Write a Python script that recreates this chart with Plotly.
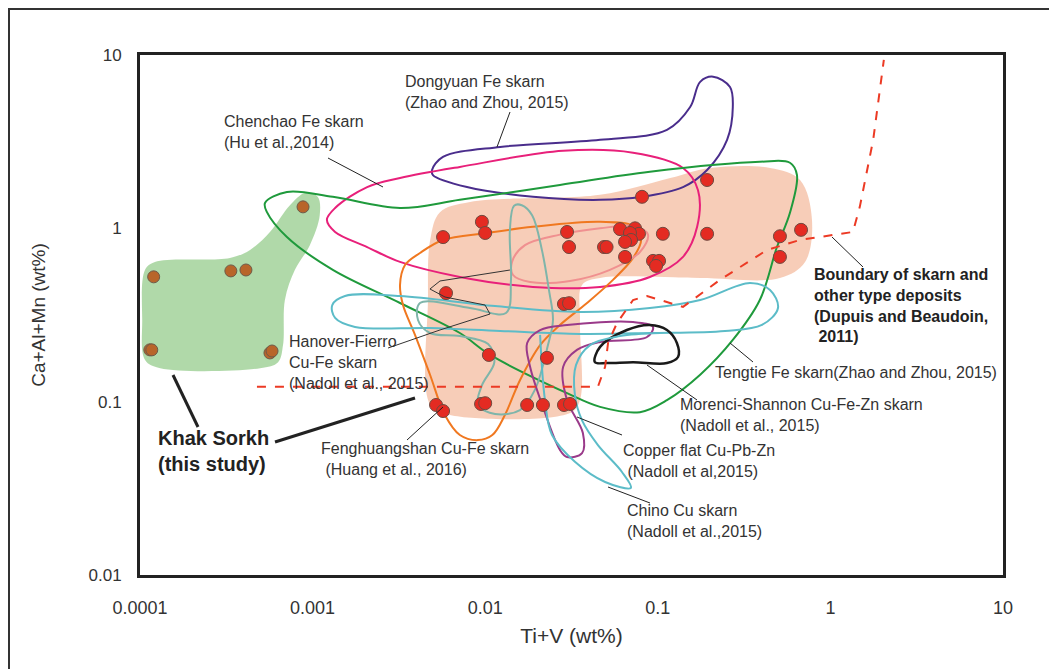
import plotly.graph_objects as go

# ---------------- data ----------------
# Khak Sorkh magnetite, red group
red_x = [0.193, 0.081, 0.00957, 0.0057, 0.0100, 0.0298, 0.0306, 0.0488, 0.0505, 0.0604,
         0.0738, 0.0778, 0.069, 0.070, 0.0646, 0.0646, 0.107, 0.193, 0.0938, 0.1017,
         0.0977, 0.00593, 0.0286, 0.0306, 0.51, 0.676, 0.51, 0.0105, 0.0228, 0.00519,
         0.0057, 0.00946, 0.0100, 0.0175, 0.0216, 0.0286, 0.031]
red_y = [1.90, 1.52, 1.09, 0.89, 0.94, 0.953, 0.78, 0.78, 0.78, 0.99,
         1.0, 0.93, 0.94, 0.857, 0.835, 0.684, 0.93, 0.93, 0.649, 0.649,
         0.607, 0.423, 0.366, 0.37, 0.90, 0.98, 0.684, 0.186, 0.179, 0.0957,
         0.0883, 0.097, 0.098, 0.0957, 0.0957, 0.0957, 0.097]
# Khak Sorkh, brown group
brown_x = [0.00088, 0.000120, 0.000336, 0.000411, 0.000114, 0.000117, 0.000566, 0.000582]
brown_y = [1.33, 0.525, 0.568, 0.575, 0.199, 0.199, 0.191, 0.196]

# Field of red group (salmon)
salmon_x = [0.0048, 0.00547, 0.00817, 0.0463, 0.118, 0.201, 0.447, 0.667, 0.782, 0.713,
            0.51, 0.176, 0.0463, 0.0364, 0.0354, 0.0354, 0.031, 0.00625, 0.0048, 0.00466]
salmon_y = [0.857, 1.24, 1.42, 1.56, 1.95, 2.23, 2.23, 1.90, 1.12, 0.64,
            0.517, 0.517, 0.517, 0.471, 0.296, 0.102, 0.086, 0.0837, 0.096, 0.386]
# Field of brown group (green)
lgreen_x = [1.07e-4, 1.22e-4, 3.32e-4, 4.34e-4, 5.66e-4, 7.39e-4, 9.05e-4, 1.07e-3, 1.10e-3,
            9.64e-4, 7.9e-4, 6.91e-4, 6.74e-4, 6.31e-4, 4.96e-4, 1.31e-4, 1.07e-4, 1.03e-4]
lgreen_y = [0.576, 0.64, 0.675, 0.751, 0.953, 1.36, 1.60, 1.52, 1.19,
            0.80, 0.576, 0.386, 0.212, 0.169, 0.156, 0.156, 0.174, 0.296]

# Published fields
green_x = [5.30e-4, 7.10e-4, 1.31e-3, 3.21e-3, 7.13e-3, 0.0271, 0.090, 0.390, 0.583, 0.640,
           0.583, 0.490, 0.390, 0.272, 0.176, 0.113, 0.0788, 0.0463, 0.0298, 0.0107,
           7.13e-3, 3.21e-3, 1.31e-3, 7.10e-4, 5.44e-4]
green_y = [1.40, 1.62, 1.52, 1.31, 1.46, 1.78, 2.12, 2.42, 2.39, 2.03,
           1.23, 0.78, 0.386, 0.227, 0.143, 0.102, 0.087, 0.0933, 0.112, 0.186,
           0.249, 0.371, 0.576, 0.891, 1.24]
chenchao_x = [1.21e-3, 1.35e-3, 2.07e-3, 3.21e-3, 7.13e-3, 0.0283, 0.0719, 0.140, 0.171, 0.169,
              0.140, 0.090, 0.0463, 0.0189, 7.13e-3, 3.21e-3, 2.07e-3, 1.35e-3]
chenchao_y = [1.12, 1.31, 1.73, 1.95, 2.26, 2.80, 2.73, 2.23, 1.66, 1.02,
              0.684, 0.524, 0.459, 0.459, 0.524, 0.640, 0.78, 0.953]
dongyuan_x = [4.92e-3, 5.69e-3, 0.0122, 0.0463, 0.113, 0.154, 0.176, 0.209, 0.262, 0.272,
              0.252, 0.193, 0.140, 0.081, 0.0463, 0.0189, 7.84e-3, 4.98e-3]
dongyuan_y = [2.17, 2.58, 2.95, 3.24, 3.70, 5.01, 7.0, 7.5, 6.54, 5.01,
              3.24, 2.17, 1.73, 1.52, 1.46, 1.52, 1.73, 2.03]
feng_x = [3.21e-3, 3.43e-3, 4.19e-3, 5.69e-3, 0.0102, 0.0189, 0.0463, 0.0719, 0.080, 0.0719,
          0.055, 0.0389, 0.0271, 0.0208, 0.0159, 0.0130, 0.0110, 9.07e-3, 7.13e-3, 5.84e-3,
          4.79e-3, 3.92e-3, 3.34e-3]
feng_y = [0.471, 0.614, 0.721, 0.857, 0.94, 1.02, 1.09, 1.03, 0.857, 0.675,
          0.504, 0.371, 0.277, 0.212, 0.133, 0.0837, 0.0642, 0.060, 0.0642, 0.0837,
          0.143, 0.243, 0.361]
pinkell_x = [0.0143, 0.0170, 0.0271, 0.0463, 0.0737, 0.0877, 0.0788, 0.0528, 0.031, 0.0182, 0.0145]
pinkell_y = [0.640, 0.80, 0.92, 1.0, 1.03, 0.92, 0.73, 0.576, 0.497, 0.49, 0.538]
tengtie_x = [1.30e-3, 1.54e-3, 3.21e-3, 0.0114, 0.0354, 0.090, 0.176, 0.342, 0.447, 0.497,
             0.401, 0.245, 0.090, 0.0354, 0.0122, 4.79e-3, 1.76e-3, 1.35e-3]
tengtie_y = [0.361, 0.407, 0.407, 0.356, 0.329, 0.347, 0.386, 0.484, 0.441, 0.347,
             0.277, 0.256, 0.249, 0.246, 0.256, 0.266, 0.270, 0.304]
hanover_x = [4.19e-3, 8.17e-3, 0.0132, 0.0141, 0.0139, 0.0147, 0.0163, 0.0187, 0.0213, 0.0234,
             0.0247, 0.0231, 0.0194, 0.0159, 0.0114, 9.07e-3, 9.6e-3, 0.0113, 0.0104, 7.13e-3,
             4.79e-3, 4.08e-3]
hanover_y = [0.371, 0.347, 0.325, 0.504, 0.979, 1.35, 1.36, 1.19, 0.751, 0.441,
             0.296, 0.212, 0.117, 0.0895, 0.085, 0.0956, 0.125, 0.169, 0.215, 0.239,
             0.249, 0.296]
copper_x = [0.0175, 0.0208, 0.0298, 0.0719, 0.0938, 0.0866, 0.0463, 0.034, 0.0283, 0.0298,
            0.0368, 0.0364, 0.0298, 0.0271, 0.0216, 0.0182]
copper_y = [0.218, 0.259, 0.277, 0.288, 0.270, 0.236, 0.221, 0.199, 0.159, 0.102,
            0.066, 0.0505, 0.0479, 0.0527, 0.0933, 0.159]
morenci_x = [0.0432, 0.0463, 0.0662, 0.090, 0.113, 0.129, 0.131, 0.113, 0.0719, 0.0508]
morenci_y = [0.169, 0.207, 0.259, 0.277, 0.259, 0.218, 0.181, 0.167, 0.169, 0.167]
chino_x = [0.0208, 0.0222, 0.0244, 0.0331, 0.0495, 0.0699, 0.062, 0.045, 0.0364, 0.0331,
           0.0336, 0.0405, 0.0603, 0.103]
chino_y = [0.243, 0.102, 0.0642, 0.045, 0.0344, 0.0318, 0.0393, 0.0562, 0.078, 0.109,
           0.163, 0.212, 0.239, 0.249]
# Boundary of skarn and other type deposits (Dupuis and Beaudoin, 2011)
bound_x = [4.76e-4, 0.045, 0.0495, 0.0515, 0.058, 0.0719, 0.0866, 0.140, 0.229, 0.430,
           0.667, 1.35, 1.48, 1.77, 2.04]
bound_y = [0.122, 0.122, 0.159, 0.218, 0.284, 0.386, 0.407, 0.352, 0.504, 0.751,
           0.857, 0.953, 1.33, 3.24, 9.37]

x_ticks = [0.0001, 0.001, 0.01, 0.1, 1, 10]
x_ticktext = ["0.0001", "0.001", "0.01", "0.1", "1", "10"]
y_ticks = [0.01, 0.1, 1, 10]
y_ticktext = ["0.01", "0.1", "1", "10"]

# ---------------- figure ----------------
FONT = "Liberation Sans, Arial, Helvetica, sans-serif"
NARROW = "Liberation Sans Narrow, Arial Narrow, " + FONT
TXT = "#333333"

fig = go.Figure()


def closed(a):
    return list(a) + [a[0]]


def fill_trace(xs, ys, color):
    fig.add_trace(go.Scatter(x=closed(xs), y=closed(ys), mode="lines", fill="toself",
                             fillcolor=color, line=dict(width=0, shape="spline", smoothing=1),
                             hoverinfo="skip", showlegend=False))


def loop_trace(xs, ys, color, width=2, close=True):
    X = closed(xs) if close else list(xs)
    Y = closed(ys) if close else list(ys)
    fig.add_trace(go.Scatter(x=X, y=Y, mode="lines",
                             line=dict(color=color, width=width, shape="spline", smoothing=1),
                             hoverinfo="skip", showlegend=False))


fill_trace(salmon_x, salmon_y, "rgba(246,196,172,0.85)")
fill_trace(lgreen_x, lgreen_y, "rgba(150,204,140,0.75)")

loop_trace(dongyuan_x, dongyuan_y, "#4a2d8c")
loop_trace(chenchao_x, chenchao_y, "#e8207a")
loop_trace(green_x, green_y, "#1f9a3c")
loop_trace(feng_x, feng_y, "#f07820")
loop_trace(pinkell_x, pinkell_y, "#f09090")
loop_trace(tengtie_x, tengtie_y, "#5cbcc8")
loop_trace(hanover_x, hanover_y, "#7fb5aa")
loop_trace(copper_x, copper_y, "#9a3a8a")
loop_trace(morenci_x, morenci_y, "#1a1a1a", width=2.5)
loop_trace(chino_x, chino_y, "#5cbcc8", close=False)

fig.add_trace(go.Scatter(x=bound_x, y=bound_y, mode="lines",
                         line=dict(color="#ec3a24", width=2, dash="dash"),
                         hoverinfo="skip", showlegend=False))

fig.add_trace(go.Scatter(x=brown_x, y=brown_y, mode="markers",
                         marker=dict(size=12, color="#b8652a", line=dict(color="#6e5a48", width=1)),
                         hoverinfo="skip", showlegend=False))
fig.add_trace(go.Scatter(x=red_x, y=red_y, mode="markers",
                         marker=dict(size=13, color="#e42b22", line=dict(color="#6e4a40", width=1)),
                         hoverinfo="skip", showlegend=False))

# ---------------- layout geometry ----------------
# plot area in screen pixels; the page body adds an 8px offset
OFF = 8
L, R, T, B = 140, 1003, 55, 575
W, H = R - L, B - T
FIG_W, FIG_H = 1057, 669


def px(x):
    return (x - L) / W


def py(y):
    return (B - y) / H


labels = [
    ("Dongyuan Fe skarn<br>(Zhao and Zhou, 2015)", 403, 92, False, 16),
    ("Chenchao Fe skarn<br>(Hu et al.,2014)", 222, 132, False, 16),
    ("Boundary of skarn and<br>other type deposits<br>(Dupuis and Beaudoin,<br> 2011)", 812, 305, True, 16),
    ("Tengtie Fe skarn(Zhao and Zhou, 2015)", 713, 372, False, 16),
    ("Morenci-Shannon Cu-Fe-Zn skarn<br>(Nadoll et al., 2015)", 678, 415, False, 16),
    ("Copper flat Cu-Pb-Zn<br> (Nadoll et al,2015)", 621, 461, False, 16),
    ("Chino Cu skarn<br>(Nadoll et al.,2015)", 625, 521, False, 16),
    ("Fenghuangshan Cu-Fe skarn<br> (Huang et al., 2016)", 319, 459, False, 16),
    ("Hanover-Fierro<br>Cu-Fe skarn<br>(Nadoll et al., 2015)", 287, 362, False, 16),
    ("Khak Sorkh<br>(this study)", 156, 451, True, 20),
]
annotations = []
for text, x, y, bold, size in labels:
    annotations.append(dict(
        text=f"<b>{text}</b>" if bold else text, xref="paper", yref="paper",
        x=px(x), y=py(y), xanchor="left", yanchor="middle", align="left",
        showarrow=False, font=dict(family=FONT, size=size, color="#222" if bold else TXT)))

shapes = []
# outer frame
shapes.append(dict(type="rect", xref="paper", yref="paper", x0=px(9), x1=px(1085),
                   y0=py(700), y1=py(9), line=dict(color="#333", width=2), layer="below"))
# leader lines
leaders = [
    ((173, 375), (198, 427), 3), ((275, 442), (415, 398), 3),
    ((510, 112), (497, 147), 1), ((328, 158), (383, 187), 1),
    ((832, 237), (863, 267), 1), ((730, 343), (753, 362), 1),
    ((647, 365), (697, 400), 1), ((577, 417), (622, 435), 1),
    ((608, 487), (650, 503), 1), ((443, 407), (407, 440), 1),
]
for (x0, y0), (x1, y1), w in leaders:
    shapes.append(dict(type="line", xref="paper", yref="paper", x0=px(x0), y0=py(y0),
                       x1=px(x1), y1=py(y1), line=dict(color="#222", width=w)))
s_pts = [(388, 348), (440, 330), (490, 314), (485, 305), (445, 297), (430, 289), (440, 281), (510, 270)]
path = "M " + " L ".join(f"{px(a):.4f},{py(b):.4f}" for a, b in s_pts)
shapes.append(dict(type="path", xref="paper", yref="paper", path=path,
                   line=dict(color="#333", width=1)))

fig.update_layout(
    width=FIG_W, height=FIG_H,
    margin=dict(l=L - OFF, r=FIG_W - (R - OFF), t=T - OFF, b=FIG_H - (B - OFF)),
    paper_bgcolor="white", plot_bgcolor="white",
    font=dict(family=FONT, color=TXT),
    annotations=annotations, shapes=shapes,
    xaxis=dict(type="log", range=[-4, 1], tickvals=x_ticks, ticktext=x_ticktext,
               showgrid=False, zeroline=False, showline=True, mirror=True,
               linecolor="#222", linewidth=3, ticks="", ticklabelstandoff=14,
               tickfont=dict(family=NARROW, size=18, color=TXT),
               title=dict(text="Ti+V (wt%)", standoff=12,
                          font=dict(family=NARROW, size=21, color=TXT))),
    yaxis=dict(type="log", range=[-2, 1], tickvals=y_ticks, ticktext=y_ticktext,
               showgrid=False, zeroline=False, showline=True, mirror=True,
               linecolor="#222", linewidth=3, ticks="", ticklabelstandoff=12,
               tickfont=dict(family=FONT, size=17, color=TXT),
               title=dict(text="Ca+Al+Mn (wt%)", standoff=38,
                          font=dict(family=FONT, size=19, color=TXT))),
)

fig.write_html("out.html")
